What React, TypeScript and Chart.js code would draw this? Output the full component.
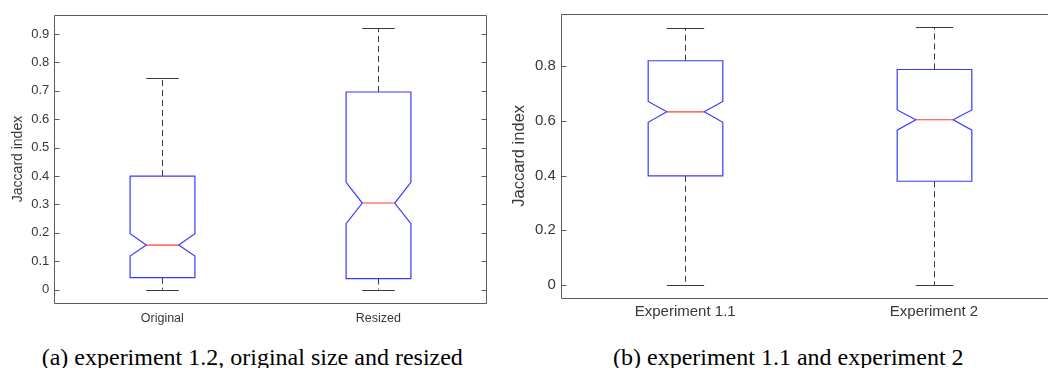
import React, { useEffect, useRef } from 'react';
import { Chart, registerables } from 'chart.js';

Chart.register(...registerables);

// ---------- data: panel (a) ----------
const leftCategories = ['Original', 'Resized'];
const leftMin = [0, 0];
const leftQ1 = [0.042, 0.039];
const leftNotchLow = [0.118, 0.232];
const leftMedian = [0.157, 0.305];
const leftNotchHigh = [0.197, 0.378];
const leftQ3 = [0.4, 0.696];
const leftMax = [0.744, 0.92];
const leftTicks = [0, 0.1, 0.2, 0.3, 0.4, 0.5, 0.6, 0.7, 0.8, 0.9];
const leftRange = [-0.046, 0.966];

// ---------- data: panel (b) ----------
const rightCategories = ['Experiment 1.1', 'Experiment 2'];
const rightMin = [0, 0];
const rightQ1 = [0.399, 0.379];
const rightNotchLow = [0.595, 0.566];
const rightMedian = [0.633, 0.604];
const rightNotchHigh = [0.671, 0.64];
const rightQ3 = [0.82, 0.788];
const rightMax = [0.938, 0.944];
const rightTicks = [0, 0.2, 0.4, 0.6, 0.8];
const rightRange = [-0.047, 0.991];

const yTitle = 'Jaccard index';
const captionA = '(a) experiment 1.2, original size and resized';
const captionB = '(b) experiment 1.1 and experiment 2';

// ---------- styles ----------
const SANS = '"Liberation Sans", Arial, sans-serif';
const SERIF = '"Liberation Serif", "Times New Roman", serif';
const TEXT_COLOR = '#383838';
const FRAME_COLOR = '#5c5c5c';
const BOX_COLOR = '#3a3aff';
const MEDIAN_COLOR = '#ff3a3a';
const WHISKER_COLOR = '#3a3a3a';

type Stats = {
  min: number[]; q1: number[]; nlo: number[]; med: number[]; nhi: number[]; q3: number[]; max: number[];
};

type Layout = {
  canvasLeft: number; canvasWidth: number; canvasHeight: number;
  padTop: number; padRight: number; yWidth: number; xHeight: number;
  tickFont: number; labelFont: number; titleFont: number;
  titlePad: number; xPad: number; yPad: number;
};

const crisp = (v: number) => Math.round(v) + 0.5;

function makeBoxPlugin(stats: Stats) {
  return {
    id: 'notchedBoxes',
    afterDraw(chart: any) {
      const { ctx, chartArea: a, scales } = chart;
      const x = scales.x;
      const y = scales.y;
      ctx.save();
      // frame
      ctx.lineWidth = 1;
      ctx.strokeStyle = FRAME_COLOR;
      const L = crisp(a.left), R = crisp(a.right), T = crisp(a.top), B = crisp(a.bottom);
      ctx.beginPath();
      ctx.moveTo(L, T); ctx.lineTo(R, T); ctx.lineTo(R, B); ctx.lineTo(L, B); ctx.closePath();
      ctx.stroke();
      // inward ticks
      ctx.beginPath();
      y.ticks.forEach((t: any) => {
        const py = crisp(y.getPixelForValue(t.value));
        ctx.moveTo(L, py); ctx.lineTo(L + 5, py);
        ctx.moveTo(R, py); ctx.lineTo(R - 5, py);
      });
      ctx.stroke();

      const unit = x.getPixelForValue(1) - x.getPixelForValue(0);
      const hw = 0.15 * unit;
      const nw = hw / 2;
      stats.med.forEach((_, i) => {
        const cx = crisp(x.getPixelForValue(i));
        const py = (v: number) => y.getPixelForValue(v);
        const q1 = py(stats.q1[i]), q3 = py(stats.q3[i]);
        const nlo = py(stats.nlo[i]), nhi = py(stats.nhi[i]);
        const med = py(stats.med[i]);
        const mn = py(stats.min[i]), mx = py(stats.max[i]);
        // whiskers (dashed)
        ctx.strokeStyle = WHISKER_COLOR;
        ctx.lineWidth = 1;
        ctx.setLineDash([6, 4]);
        ctx.beginPath();
        ctx.moveTo(cx, q3); ctx.lineTo(cx, mx);
        ctx.moveTo(cx, q1); ctx.lineTo(cx, mn);
        ctx.stroke();
        ctx.setLineDash([]);
        // caps
        ctx.beginPath();
        ctx.moveTo(cx - nw, crisp(mx)); ctx.lineTo(cx + nw, crisp(mx));
        ctx.moveTo(cx - nw, crisp(mn)); ctx.lineTo(cx + nw, crisp(mn));
        ctx.stroke();
        // notched box
        ctx.strokeStyle = BOX_COLOR;
        ctx.lineWidth = 1.2;
        ctx.beginPath();
        ctx.moveTo(cx - hw, q1);
        ctx.lineTo(cx + hw, q1);
        ctx.lineTo(cx + hw, nlo);
        ctx.lineTo(cx + nw, med);
        ctx.lineTo(cx + hw, nhi);
        ctx.lineTo(cx + hw, q3);
        ctx.lineTo(cx - hw, q3);
        ctx.lineTo(cx - hw, nhi);
        ctx.lineTo(cx - nw, med);
        ctx.lineTo(cx - hw, nlo);
        ctx.closePath();
        ctx.stroke();
        // median
        ctx.strokeStyle = MEDIAN_COLOR;
        ctx.beginPath();
        ctx.moveTo(cx - nw, med); ctx.lineTo(cx + nw, med);
        ctx.stroke();
      });
      ctx.restore();
    },
  };
}

function BoxPanel(props: {
  categories: string[]; stats: Stats; ticks: number[]; range: number[]; layout: Layout;
}) {
  const ref = useRef<HTMLCanvasElement | null>(null);
  const { categories, stats, ticks, range, layout } = props;
  useEffect(() => {
    if (!ref.current) return;
    const chart = new Chart(ref.current, {
      type: 'bar',
      data: { labels: categories, datasets: [] },
      options: {
        animation: false,
        responsive: false,
        maintainAspectRatio: false,
        devicePixelRatio: 1,
        layout: { padding: { top: layout.padTop, right: layout.padRight, left: 0, bottom: 0 } },
        plugins: { legend: { display: false }, tooltip: { enabled: false }, title: { display: false } },
        scales: {
          x: {
            type: 'category',
            offset: true,
            grid: { display: false, drawTicks: false },
            border: { display: false },
            ticks: {
              padding: layout.xPad,
              color: TEXT_COLOR,
              maxRotation: 0,
              font: { family: SANS, size: layout.labelFont },
            },
            afterFit: (s: any) => { s.height = layout.xHeight; },
          },
          y: {
            type: 'linear',
            min: range[0],
            max: range[1],
            grid: { display: false, drawTicks: false },
            border: { display: false },
            ticks: {
              padding: layout.yPad,
              color: TEXT_COLOR,
              font: { family: SANS, size: layout.tickFont },
              callback: (v: any) => String(Number(v)),
            },
            afterBuildTicks: (s: any) => { s.ticks = ticks.map((v) => ({ value: v })); },
            afterFit: (s: any) => { s.width = layout.yWidth; },
            title: {
              display: true,
              text: yTitle,
              color: TEXT_COLOR,
              font: { family: SANS, size: layout.titleFont, lineHeight: 1.2 },
              padding: { top: layout.titlePad, bottom: 0 },
            },
          },
        },
      } as any,
      plugins: [makeBoxPlugin(stats)],
    });
    return () => chart.destroy();
  }, []);
  return (
    <canvas
      ref={ref}
      width={layout.canvasWidth}
      height={layout.canvasHeight}
      style={{
        position: 'absolute',
        left: layout.canvasLeft,
        top: 0,
        width: layout.canvasWidth,
        height: layout.canvasHeight,
      }}
    />
  );
}

const leftLayout: Layout = {
  canvasLeft: 0, canvasWidth: 500, canvasHeight: 340,
  padTop: 15.3, padRight: 13.7, yWidth: 54.3, xHeight: 37.3,
  tickFont: 13, labelFont: 12.5, titleFont: 14, titlePad: 9.6, xPad: 8.8, yPad: 5,
};

const rightLayout: Layout = {
  canvasLeft: 500, canvasWidth: 580, canvasHeight: 340,
  padTop: 12.3, padRight: 21.6, yWidth: 60.8, xHeight: 42.3,
  tickFont: 15, labelFont: 15, titleFont: 16.5, titlePad: 9.1, xPad: 5.3, yPad: 5,
};

const captionStyle: React.CSSProperties = {
  position: 'absolute',
  top: 345,
  fontFamily: SERIF,
  fontSize: 24,
  lineHeight: '24px',
  color: '#000',
  whiteSpace: 'nowrap',
};

export default function App() {
  return (
    <div
      style={{
        position: 'fixed',
        left: 0,
        top: 0,
        width: 1048,
        height: 368,
        overflow: 'hidden',
        background: '#fff',
      }}
    >
      <BoxPanel
        categories={leftCategories}
        stats={{ min: leftMin, q1: leftQ1, nlo: leftNotchLow, med: leftMedian, nhi: leftNotchHigh, q3: leftQ3, max: leftMax }}
        ticks={leftTicks}
        range={leftRange}
        layout={leftLayout}
      />
      <BoxPanel
        categories={rightCategories}
        stats={{ min: rightMin, q1: rightQ1, nlo: rightNotchLow, med: rightMedian, nhi: rightNotchHigh, q3: rightQ3, max: rightMax }}
        ticks={rightTicks}
        range={rightRange}
        layout={rightLayout}
      />
      <div style={{ ...captionStyle, left: 41.7 }}>{captionA}</div>
      <div style={{ ...captionStyle, left: 613 }}>{captionB}</div>
    </div>
  );
}
